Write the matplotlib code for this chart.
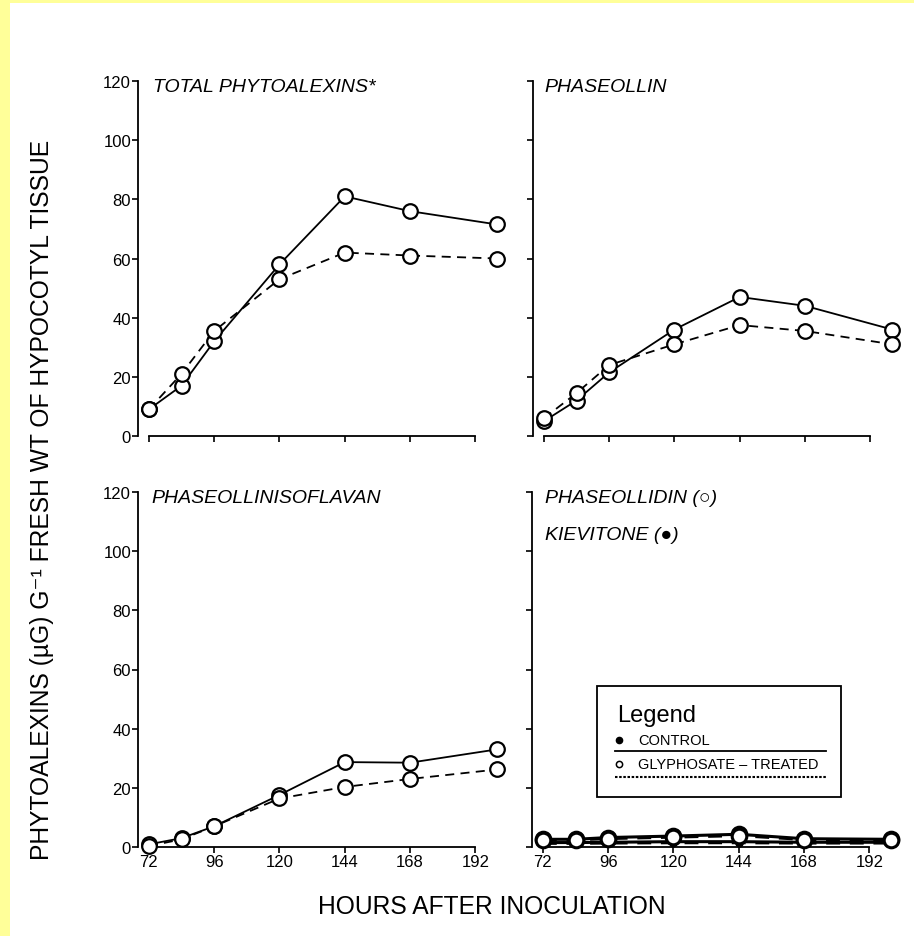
import matplotlib
matplotlib.use("Agg")
import matplotlib.pyplot as plt
from matplotlib.patches import Rectangle
from matplotlib.lines import Line2D

plt.rcParams['font.family'] = ['Liberation Sans', 'DejaVu Sans']

# ---------------- data ----------------
hours = [72, 84, 96, 120, 144, 168, 200]
x_ticks = [72, 96, 120, 144, 168, 192]
y_ticks = [0, 20, 40, 60, 80, 100, 120]

total_control = [9, 17, 32, 58, 81, 76, 71.5]
total_treated = [9, 21, 35.5, 53, 62, 61, 60]

phaseollin_control = [5, 12, 21.5, 36, 47, 44, 36]
phaseollin_treated = [6, 14.5, 24, 31, 37.5, 35.5, 31]

pisoflavan_control = [0.9, 3, 7, 17.6, 28.7, 28.5, 33]
pisoflavan_treated = [0.3, 2.6, 7, 16.4, 20.3, 23, 26.2]

phaseollidin_control = [2.6, 2.6, 3.2, 3.7, 4.3, 2.8, 2.6]
phaseollidin_treated = [2.4, 2.4, 2.8, 3.3, 3.8, 2.5, 2.4]
kievitone_control = [1.5, 1.5, 1.6, 1.8, 1.8, 1.6, 1.6]
kievitone_treated = [1.2, 1.2, 1.3, 1.4, 1.4, 1.3, 1.3]

titles = ["TOTAL PHYTOALEXINS*", "PHASEOLLIN", "PHASEOLLINISOFLAVAN",
          "PHASEOLLIDIN (\u25CB)"]
subtitle = "KIEVITONE (\u25CF)"
ylabel = "PHYTOALEXINS (\u00b5G) G\u207b\u00b9 FRESH WT OF HYPOCOTYL TISSUE"
xlabel = "HOURS AFTER INOCULATION"
legend_title = "Legend"
legend_labels = ["CONTROL", "GLYPHOSATE \u2013 TREATED"]

# ---------------- figure ----------------
W, H = 914, 937
fig = plt.figure(figsize=(W / 100, H / 100), dpi=100)
fig.patch.set_facecolor('white')
# yellow scan frame
fig.add_artist(Rectangle((0, 0), 10 / W, 1, transform=fig.transFigure,
                         facecolor='#ffff99', edgecolor='none', zorder=0))
fig.add_artist(Rectangle((0, 1 - 4 / H), 1, 4 / H, transform=fig.transFigure,
                         facecolor='#ffff99', edgecolor='none', zorder=0))

axw = 370 / W
axh = 355 / H
pos = {
    (0, 0): [138 / W, 1 - 437 / H, axw, axh],
    (0, 1): [533 / W, 1 - 437 / H, axw, axh],
    (1, 0): [138 / W, 1 - 848 / H, axw, axh],
    (1, 1): [532 / W, 1 - 848 / H, axw, axh],
}

ms = 10.5
mew = 1.6
lw = 1.3
dash = (0, (5, 3.5))


def style(ax, ylabels, xlabels):
    ax.set_xlim(68, 204)
    ax.set_ylim(0, 120)
    for s in ['top', 'right']:
        ax.spines[s].set_visible(False)
    ax.spines['left'].set_bounds(0, 120)
    ax.spines['bottom'].set_bounds(72, 192)
    ax.spines['left'].set_linewidth(1.3)
    ax.spines['bottom'].set_linewidth(1.3)
    ax.set_xticks(x_ticks)
    ax.set_yticks(y_ticks)
    ax.tick_params(axis='both', direction='out', length=4, width=1.2,
                   labelsize=12, pad=1)
    if not ylabels:
        ax.set_yticklabels([])
    if not xlabels:
        ax.set_xticklabels([])
    ax.set_facecolor('none')


def plot_pair(ax, c, t):
    ax.plot(hours, c, '-', color='black', lw=lw, marker='o', ms=ms,
            mfc='white', mec='black', mew=mew, clip_on=False, zorder=3)
    ax.plot(hours, t, linestyle=dash, color='black', lw=lw, marker='o', ms=ms,
            mfc='white', mec='black', mew=mew, clip_on=False, zorder=3)


ax1 = fig.add_axes(pos[(0, 0)])
plot_pair(ax1, total_control, total_treated)
style(ax1, True, False)
ax1.text(0.04, 0.985, titles[0], transform=ax1.transAxes, fontsize=14,
         style='italic', va='center', ha='left')

ax2 = fig.add_axes(pos[(0, 1)])
plot_pair(ax2, phaseollin_control, phaseollin_treated)
style(ax2, False, False)
ax2.text(0.03, 0.985, titles[1], transform=ax2.transAxes, fontsize=14,
         style='italic', va='center', ha='left')

ax3 = fig.add_axes(pos[(1, 0)])
plot_pair(ax3, pisoflavan_control, pisoflavan_treated)
style(ax3, True, True)
ax3.text(0.035, 0.985, titles[2], transform=ax3.transAxes, fontsize=14,
         style='italic', va='center', ha='left')

ax4 = fig.add_axes(pos[(1, 1)])
ax4.plot(hours, kievitone_control, '-', color='black', lw=2.2, marker='o',
         ms=5, mfc='black', mec='black', clip_on=False, zorder=2)
ax4.plot(hours, kievitone_treated, linestyle=dash, color='black', lw=2.0,
         marker='o', ms=5, mfc='black', mec='black', clip_on=False, zorder=2)
ax4.plot(hours, phaseollidin_control, '-', color='black', lw=2.2, marker='o',
         ms=ms, mfc='white', mec='black', mew=2.2, clip_on=False, zorder=3)
ax4.plot(hours, phaseollidin_treated, linestyle=dash, color='black', lw=2.0,
         marker='o', ms=ms, mfc='white', mec='black', mew=2.2, clip_on=False,
         zorder=3)
style(ax4, False, True)
ax4.text(0.035, 0.985, titles[3], transform=ax4.transAxes, fontsize=14,
         style='italic', va='center', ha='left')
ax4.text(0.035, 0.88, subtitle, transform=ax4.transAxes, fontsize=14,
         style='italic', va='center', ha='left')

# ---------------- legend (drawn like the original box) ----------------
def fx(px):
    return px / W


def fy(py):
    return 1 - py / H


fig.add_artist(Rectangle((fx(597), fy(798)), fx(841) - fx(597), fy(687) - fy(798),
                         transform=fig.transFigure, facecolor='white',
                         edgecolor='black', lw=1.3, zorder=5))
fig.text(fx(617), fy(716), legend_title, fontsize=17, va='center', ha='left',
         zorder=6)
fig.add_artist(Line2D([fx(619)], [fy(741)], marker='o', ms=4.5, mfc='black',
                      mec='black', transform=fig.transFigure, zorder=6))
fig.text(fx(638), fy(741), legend_labels[0], fontsize=10.5, va='center',
         ha='left', zorder=6)
fig.add_artist(Line2D([fx(615), fx(826)], [fy(752), fy(752)], color='black',
                      lw=1.3, transform=fig.transFigure, zorder=6))
fig.add_artist(Line2D([fx(619)], [fy(765)], marker='o', ms=4.5, mfc='white',
                      mec='black', mew=1.1, transform=fig.transFigure, zorder=6))
fig.text(fx(638), fy(765), legend_labels[1], fontsize=10.5, va='center',
         ha='left', zorder=6)
fig.add_artist(Line2D([fx(615), fx(826)], [fy(778), fy(778)], color='black',
                      lw=1.5, linestyle=(0, (1.2, 0.8)),
                      transform=fig.transFigure, zorder=6))

# ---------------- axis titles ----------------
fig.text(42 / W, 1 - 500 / H, ylabel, rotation=90, fontsize=17.7,
         va='center', ha='center')
fig.text(492 / W, 1 - 907 / H, xlabel, fontsize=17.7, va='center', ha='center')

fig.savefig("out.png", dpi=100, facecolor=fig.get_facecolor())
